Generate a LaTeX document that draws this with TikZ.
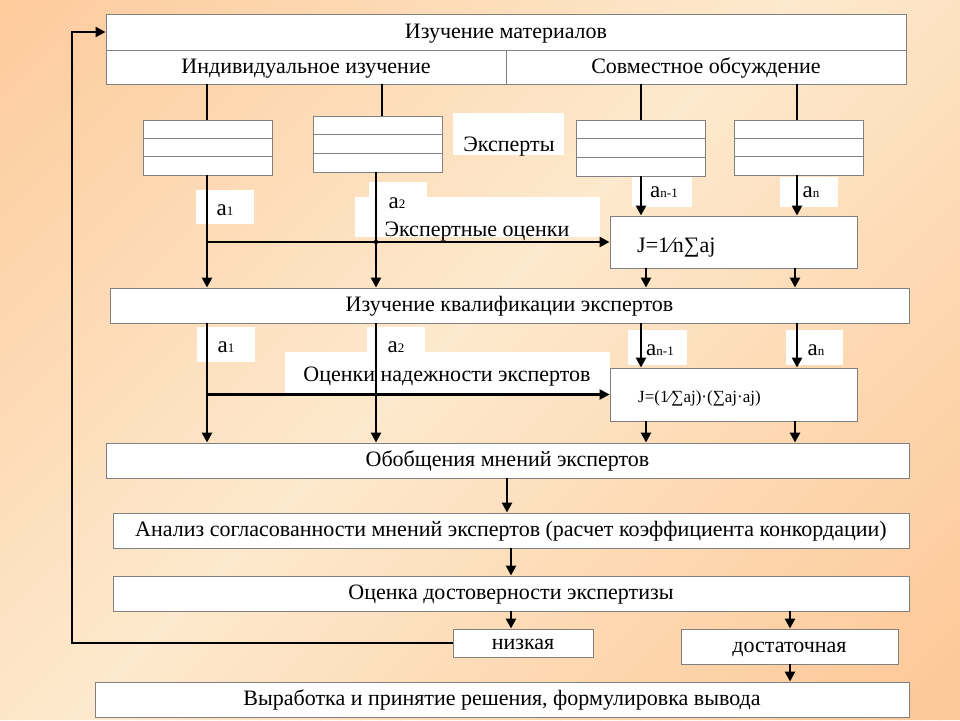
\documentclass[tikz,border=0pt]{standalone}
\usepackage{fontspec}
\setmainfont{Liberation Serif}
\usetikzlibrary{arrows.meta,calc}
\definecolor{boxgray}{HTML}{808080}
\definecolor{bgorange}{HTML}{FDC898}
\definecolor{bglight}{HTML}{FDE9CD}
\newcommand\smallsub[1]{{\fontsize{13}{13}\selectfont #1}}
\begin{document}
\begin{tikzpicture}[x=1pt,y=-1pt,
  box/.style={draw=boxgray, fill=white, line width=0.9pt, inner sep=0pt, text height=16pt, text depth=4pt, font=\fontsize{22}{26}\selectfont},
  lbl/.style={fill=white, inner sep=0pt},
  txt/.style={inner sep=0pt, anchor=base, font=\fontsize{22}{26}\selectfont},
  albl/.style={inner sep=0pt, anchor=base, font=\fontsize{23}{26}\selectfont},
  arr/.style={line width=2.8pt, -{Triangle[length=10pt,width=10pt]}},
  ln/.style={line width=2.8pt},
  rowline/.style={draw=boxgray, line width=0.9pt}]
\useasboundingbox (0,0) rectangle (960,720);
% background: diagonal gradient (orange corners top-left / bottom-right, light band)
\begin{scope}
\clip (0,0) rectangle (960,720);
\foreach \i in {0,...,83}{
  \pgfmathsetmacro\s{\i*20}
  \pgfmathtruncatemacro\p{min(100,abs((\i+0.5)/84-0.47)*200)}
  \fill[bgorange!\p!bglight] (\s,0) -- (\s+21,0) -- (\s-699,720) -- (\s-720,720) -- cycle;
}
\end{scope}

% column coordinates
\coordinate (c1) at (207,0);
\coordinate (c2) at (376,0);
\coordinate (c2t) at (382,0);
\coordinate (c3) at (641,0);
\coordinate (c4) at (797,0);
\coordinate (c5) at (646,0);
\coordinate (c6) at (795,0);
\coordinate (c7) at (507,0);
\coordinate (c8) at (511,0);
\coordinate (c9) at (790,0);
\coordinate (cL) at (72,0);

% main boxes
\node[box, minimum width=800, minimum height=36] (m) at (506,32) {Изучение материалов};
\node[box, minimum width=400, minimum height=34] (ind) at (306,67) {Индивидуальное изучение};
\node[box, minimum width=400, minimum height=34] (sov) at (706,67) {Совместное обсуждение};

% expert boxes
\node[box, minimum width=129, minimum height=55] (e1) at (207.5,147.5) {};
\node[box, minimum width=129, minimum height=56] (e2) at (377.5,144) {};
\node[box, minimum width=129, minimum height=56] (e3) at (640.5,148) {};
\node[box, minimum width=129, minimum height=55] (e4) at (798.5,147.5) {};
\foreach \e in {e1,e2,e3,e4}{
  \draw[rowline] ($(\e.north west)!1/3!(\e.south west)$) -- ($(\e.north east)!1/3!(\e.south east)$);
  \draw[rowline] ($(\e.north west)!2/3!(\e.south west)$) -- ($(\e.north east)!2/3!(\e.south east)$);
}

\node[lbl, minimum width=111, minimum height=42] (expbg) at (508.5,134) {};
\node[txt] (exptxt) at (509,151) {Эксперты};

\node[box, minimum width=247, minimum height=52] (J1) at (733.5,242) {};
\node[box, minimum width=799, minimum height=35] (K) at (509.5,305.5) {Изучение квалификации экспертов};
\node[box, minimum width=247, minimum height=53] (J2) at (733.5,394.5) {};
\node[box, minimum width=803, minimum height=35] (O) at (507.5,460.5) {Обобщения мнений экспертов};
\node[box, minimum width=796, minimum height=35] (A) at (511,530.5) {Анализ согласованности мнений экспертов (расчет коэффициента конкордации)};
\node[box, minimum width=796, minimum height=35] (D) at (511,593.5) {Оценка достоверности экспертизы};
\node[box, minimum width=140, minimum height=28] (low) at (523,643) {низкая};
\node[box, minimum width=217, minimum height=35] (suff) at (789.5,646.5) {достаточная};
\node[box, minimum width=814, minimum height=35] (F) at (502,699.5) {Выработка и принятие решения, формулировка вывода};

% white label backgrounds
\node[lbl, minimum width=58, minimum height=34] (a1ubg) at (225,207) {};
\node[lbl, minimum width=58, minimum height=18] (a2ubg) at (397.5,191) {};
\node[lbl, minimum width=245, minimum height=40] (eobg) at (477.5,217) {};
\node[lbl, minimum width=60, minimum height=30] (an1ubg) at (662,192) {};
\node[lbl, minimum width=58, minimum height=30] (anubg) at (809,192) {};
\node[lbl, minimum width=58, minimum height=35] (a1lbg) at (226,344.5) {};
\node[lbl, minimum width=58, minimum height=25] (a2lbg) at (396,339.5) {};
\node[lbl, minimum width=325, minimum height=41] (onbg) at (447.5,372.5) {};
\node[lbl, minimum width=59, minimum height=35] (an1lbg) at (657.5,347.5) {};
\node[lbl, minimum width=57, minimum height=35] (anlbg) at (814.5,347.5) {};

% label texts
\node[albl] (a1u) at (225,215) {a\smallsub{1}};
\node[albl] (a2u) at (397,208) {a\smallsub{2}};
\node[txt] (eotxt) at (477,236) {Экспертные оценки};
\node[albl] (an1u) at (664,197) {a\smallsub{n-1}};
\node[albl] (anu) at (811,197) {a\smallsub{n}};
\node[albl] (a1l) at (226,352) {a\smallsub{1}};
\node[albl] (a2l) at (396,352) {a\smallsub{2}};
\node[txt] (ontxt) at (447,381) {Оценки надежности экспертов};
\node[albl] (an1l) at (660,355) {a\smallsub{n-1}};
\node[albl] (anl) at (816,355) {a\smallsub{n}};

% formulas
\node[txt, anchor=base west] (f1) at (637,252) {J=1⁄n∑aj};
\node[inner sep=0pt, anchor=base west, font=\fontsize{17}{20}\selectfont] (f2) at (638,402) {J=(1⁄∑aj)·(∑aj·aj)};

% connectors upper
\draw[ln] (ind.south -| c1) -- (e1.north -| c1);
\draw[ln] (ind.south -| c2t) -- (e2.north -| c2t);
\draw[ln] (sov.south -| c3) -- (e3.north -| c3);
\draw[ln] (sov.south -| c4) -- (e4.north -| c4);
\draw[arr] (e1.south -| c1) -- (K.north -| c1);
\draw[arr] (e2.south -| c2) -- (K.north -| c2);
\draw[arr] (J1.west -| c1) -- (J1.west);
\fill (J1.west -| c2) circle (2.2);
\draw[arr] (e3.south -| c3) -- (J1.north -| c3);
\draw[arr] (e4.south -| c4) -- (J1.north -| c4);
\draw[arr] (J1.south -| c5) -- (K.north -| c5);
\draw[arr] (J1.south -| c6) -- (K.north -| c6);

% connectors middle
\draw[arr] (K.south -| c1) -- (O.north -| c1);
\draw[arr] (K.south -| c2) -- (O.north -| c2);
\draw[arr] (J2.west -| c1) -- (J2.west);
\draw[arr] (K.south -| c3) -- (J2.north -| c3);
\draw[arr] (K.south -| c4) -- (J2.north -| c4);
\draw[arr] (J2.south -| c5) -- (O.north -| c5);
\draw[arr] (J2.south -| c6) -- (O.north -| c6);

% connectors lower
\draw[arr] (O.south -| c7) -- (A.north -| c7);
\draw[arr] (A.south -| c8) -- (D.north -| c8);
\draw[arr] (D.south -| c8) -- (low.north -| c8);
\draw[arr] (D.south -| c9) -- (suff.north -| c9);
\draw[arr] (suff.south -| c9) -- (F.north -| c9);
\draw[arr] (low.west) -- (low.west -| cL) -- (m.west -| cL) -- (m.west);
\end{tikzpicture}
\end{document}
